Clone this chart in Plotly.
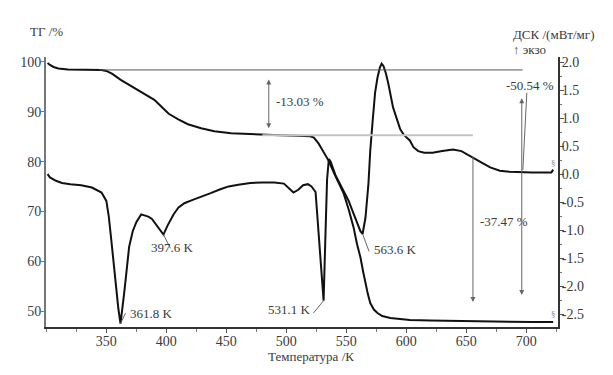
import plotly.graph_objects as go

# ---- data ----
tg_T = [301, 303, 306, 310, 318, 330, 340, 346, 350, 355, 362, 370, 379, 385, 390, 396, 402,
        410, 418, 429, 440, 454, 470, 485, 495, 510, 520, 523, 525, 527, 529, 531, 533, 535,
        540, 543.5, 547.7, 552, 556, 559, 561.8, 564, 566, 568, 570, 573, 576, 580, 586.7,
        595, 603, 620, 650, 680, 705, 722.5]
tg_val = [99.8, 99.4, 99.0, 98.7, 98.5, 98.45, 98.4, 98.4, 98.2, 97.6, 96.4, 95.3, 94.0, 93.2,
          92.4, 91.0, 89.6, 88.5, 87.5, 86.7, 86.1, 85.7, 85.5, 85.4, 85.3, 85.2, 85.1, 84.8,
          84.3, 83.6, 82.8, 82.0, 81.2, 80.3, 77.6, 75.7, 73.7, 70.4, 66.9, 63.4, 60.8, 58.0,
          55.6, 53.4, 51.6, 50.3, 49.6, 49.0, 48.6, 48.4, 48.2, 48.1, 47.95, 47.85, 47.8, 47.8]

dsc_T = [301, 303, 308, 313, 320, 329, 338, 346, 350, 352, 354, 356, 358, 360, 361.8, 363.5,
         365, 367, 369, 372, 375, 379, 382, 385, 388, 390, 394, 397.6, 401, 406, 410, 415,
         422, 429, 437, 445, 452, 460, 470, 480, 490, 498, 503, 506, 510, 514, 518, 521,
         524.4, 527, 529, 530, 531.1, 532.5, 534, 535.5, 537, 541, 547.7, 552, 556, 559,
         561.8, 563.6, 566, 568.5, 570, 572, 574, 576, 578, 579.5, 581, 583, 585, 589, 595,
         598, 601, 603, 606, 610, 615, 622, 630, 639, 646, 653, 659, 664, 670, 678, 686,
         695, 705, 715, 721, 722.5]
dsc_val = [0.0, -0.06, -0.12, -0.16, -0.18, -0.20, -0.24, -0.33, -0.48, -0.75, -1.15, -1.6,
           -2.0, -2.4, -2.67, -2.4, -2.1, -1.7, -1.3, -1.02, -0.86, -0.72, -0.74, -0.76, -0.80,
           -0.86, -0.96, -1.08, -0.92, -0.72, -0.60, -0.52, -0.46, -0.41, -0.34, -0.27, -0.22,
           -0.19, -0.16, -0.15, -0.15, -0.17, -0.26, -0.33, -0.28, -0.20, -0.18, -0.22,
           -0.32, -1.06, -1.7, -1.96, -2.26, -1.2, -0.1, 0.27, 0.22, -0.02, -0.29, -0.48,
           -0.70, -0.88, -1.02, -1.07, -0.78, -0.17, 0.42, 0.95, 1.45, 1.72, 1.9, 1.97,
           1.93, 1.8, 1.62, 1.19, 0.80, 0.70, 0.64, 0.60, 0.48, 0.41, 0.38, 0.38, 0.41,
           0.44, 0.41, 0.33, 0.25, 0.19, 0.12, 0.06, 0.04, 0.03, 0.03, 0.03, 0.03, 0.08]

x_ticks = [350, 400, 450, 500, 550, 600, 650, 700]
tg_ticks = [50, 60, 70, 80, 90, 100]
dsc_ticks = [-2.5, -2.0, -1.5, -1.0, -0.5, 0.0, 0.5, 1.0, 1.5, 2.0]

peaks = [("361.8 K", 361.8, -2.67), ("397.6 K", 397.6, -1.08),
         ("531.1 K", 531.1, -2.26), ("563.6 K", 563.6, -1.07)]

FONT = "Liberation Serif"
TXT = "#3a3a3a"

fig = go.Figure()
fig.add_trace(go.Scatter(x=tg_T, y=tg_val, mode="lines", line=dict(color="#111", width=2),
                         yaxis="y", showlegend=False))
fig.add_trace(go.Scatter(x=dsc_T, y=dsc_val, mode="lines", line=dict(color="#111", width=2),
                         yaxis="y2", showlegend=False))

# reference lines (TG axis)
fig.add_shape(type="line", xref="x", yref="y", x0=344, x1=697, y0=98.4, y1=98.4,
              line=dict(color="#555", width=1))
fig.add_shape(type="line", xref="x", yref="y", x0=480, x1=655.6, y0=85.3, y1=85.3,
              line=dict(color="#c4c4c4", width=2))

def arrow(x, y0, y1, side="end"):
    fig.add_annotation(x=x, y=y1, ax=x, ay=y0, xref="x", yref="y", axref="x", ayref="y",
                       text="", showarrow=True, arrowhead=2, arrowsize=1, arrowwidth=1,
                       arrowside=side, startarrowhead=2, startarrowsize=1, arrowcolor="#666")

arrow(485.4, 96.8, 86.7, "end+start")
arrow(655.6, 81.3, 51.8, "end")
arrow(696.3, 93.0, 53.2, "end+start")
fig.add_shape(type="line", xref="x", yref="y", x0=700.5, x1=697.2, y0=93.8, y1=78.3,
              line=dict(color="#666", width=1))

def label(text, x, y, xanchor="left", size=13):
    fig.add_annotation(x=x, y=y, xref="x", yref="y", text=text, showarrow=False,
                       xanchor=xanchor, yanchor="middle",
                       font=dict(family=FONT, size=size, color=TXT))

label("-13.03 %", 489.5, 92.0)
label("-37.47 %", 659.5, 67.9)
label("-50.54 %", 703.0, 95.2, xanchor="center")

# peak labels with leader lines
offs = {"361.8 K": (368.0, 49.6, "left", 366.0, 50.6),
        "397.6 K": (385.7, 62.7, "left", 403.5, 63.6),
        "531.1 K": (522.0, 50.3, "right", 522.5, 50.6),
        "563.6 K": (571.5, 62.4, "left", 569.0, 63.0)}
for name, t, v in peaks:
    tx, ty, anc, lx, ly = offs[name]
    fig.add_annotation(x=tx, y=ty, xref="x", yref="y", text=name, showarrow=False,
                       xanchor=anc, yanchor="middle", font=dict(family=FONT, size=13, color=TXT))
    fig.add_shape(type="line", xref="x", yref="y2", x0=t, y0=v, x1=lx,
                  y1=(ly - 100) * 4.98 / 56 + 2.0 - 0.09,
                  line=dict(color="#666", width=1))

# small curve markers at right end
fig.add_annotation(x=722.5, y=0.2, xref="x", yref="y2", text="§", showarrow=False,
                   font=dict(family=FONT, size=9, color="#888"))
fig.add_annotation(x=722.5, y=49.5, xref="x", yref="y", text="§", showarrow=False,
                   font=dict(family=FONT, size=9, color="#888"))

# axis titles
def ptext(text, x, y, xanchor):
    fig.add_annotation(x=x, y=y, xref="paper", yref="paper", text=text, showarrow=False,
                       xanchor=xanchor, yanchor="middle",
                       font=dict(family=FONT, size=13, color=TXT))

ptext("ТГ /%", 0.0, 1.093, "center")
ptext("ДСК /(мВт/мг)", 0.908, 1.085, "left")
ptext("↑ экзо", 0.908, 1.026, "left")
ptext("Температура /К", 0.5175, -0.111, "center")

fig.update_layout(
    width=605, height=367,
    margin=dict(l=36, r=55, t=49, b=48),
    paper_bgcolor="white", plot_bgcolor="white",
    font=dict(family=FONT, size=14, color=TXT),
    xaxis=dict(range=[299.7, 726.5], tickvals=x_ticks, showgrid=False, zeroline=False,
               showline=True, linecolor="#333", linewidth=2, ticks="outside", ticklen=4,
               tickcolor="#555", ticklabelstandoff=-4,
               minor=dict(dtick=25, tick0=0, ticks="outside", ticklen=3, tickcolor="#777"),
               tickfont=dict(family=FONT, size=14, color=TXT)),
    yaxis=dict(range=[46.8, 101.0], tickvals=tg_ticks, showgrid=False, zeroline=False,
               showline=True, linecolor="#777", linewidth=2, ticks="outside", ticklen=3,
               tickcolor="#777", ticklabelstandoff=-3,
               tickfont=dict(family=FONT, size=14, color="#34404c")),
    yaxis2=dict(range=[-2.73, 2.09], tickvals=dsc_ticks, ticktext=[f"{v:.1f}" for v in dsc_ticks],
                overlaying="y", side="right", showgrid=False, zeroline=False,
                showline=True, linecolor="#333", linewidth=2, ticks="outside", ticklen=4,
                tickcolor="#555", ticklabelstandoff=-5,
                minor=dict(dtick=0.25, ticks="outside", ticklen=2, tickcolor="#777"),
                tickfont=dict(family=FONT, size=14, color=TXT)),
)

fig.write_html("out.html")
